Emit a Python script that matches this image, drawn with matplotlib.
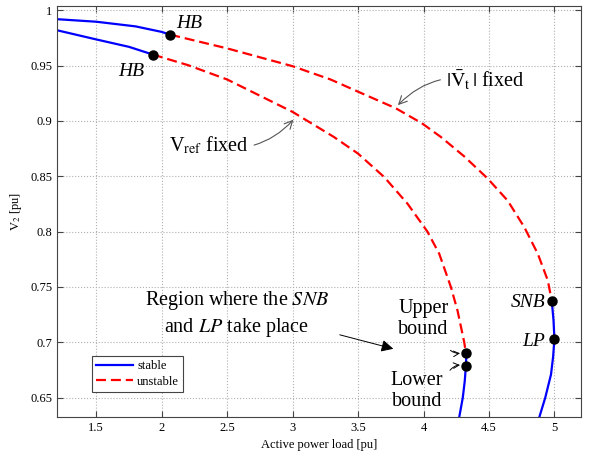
import numpy as np
import matplotlib
matplotlib.use("Agg")
import matplotlib.pyplot as plt
from matplotlib.ticker import FuncFormatter

# --- data (load P [pu], voltage V2 [pu]) ---
# outer curve: |Vt| fixed
vt_stable_top_p = [1.2, 1.5, 1.8, 2.0, 2.065]
vt_stable_top_v = [0.992, 0.9897, 0.9855, 0.9805, 0.978]
vt_unstable_p = [2.065, 2.5, 3.0, 3.29, 3.49, 3.788, 3.987, 4.133, 4.311,
                 4.49, 4.643, 4.77, 4.873, 4.95, 4.98]
vt_unstable_v = [0.978, 0.9656, 0.9495, 0.9375, 0.927, 0.9115, 0.898, 0.8855,
                 0.868, 0.848, 0.828, 0.804, 0.780, 0.7557, 0.737]
vt_stable_bot_p = [4.98, 4.993, 5.0, 4.99, 4.974, 4.93, 4.885]
vt_stable_bot_v = [0.737, 0.72, 0.703, 0.687, 0.671, 0.65, 0.6325]

# inner curve: Vref fixed
vr_stable_top_p = [1.2, 1.5, 1.75, 1.933]
vr_stable_top_v = [0.982, 0.9737, 0.967, 0.96]
vr_unstable_p = [1.933, 2.2, 2.5, 3.0, 3.316, 3.5, 3.70, 3.878, 4.03, 4.12,
                 4.209, 4.26, 4.311, 4.324]
vr_unstable_v = [0.96, 0.9505, 0.9375, 0.9082, 0.8855, 0.8705, 0.8493, 0.8252,
                 0.80, 0.78, 0.75, 0.7285, 0.70, 0.690]
vr_stable_bot_p = [4.324, 4.326, 4.324, 4.315, 4.30, 4.273]
vr_stable_bot_v = [0.690, 0.685, 0.679, 0.665, 0.65, 0.6325]

# special points
hb_p = [2.065, 1.933]
hb_v = [0.978, 0.96]
snb_lp_p = [4.98, 5.0]
snb_lp_v = [0.737, 0.703]
bounds_p = [4.324, 4.324]
bounds_v = [0.690, 0.679]

plt.rcParams['font.family'] = ['Liberation Serif', 'DejaVu Serif']
plt.rcParams['mathtext.fontset'] = 'stix'

fig = plt.figure(figsize=(5.93, 4.54), dpi=100)
ax = fig.add_axes([0.0961, 0.0815, 0.883, 0.9055])

blue = '#0000ff'
red = '#ff0000'
dash = (0, (4.5, 2.2))

ax.plot(vt_stable_top_p, vt_stable_top_v, color=blue, lw=1.6, label='stable')
ax.plot(vt_unstable_p, vt_unstable_v, color=red, lw=1.6, linestyle=dash, label='unstable')
ax.plot(vt_stable_bot_p, vt_stable_bot_v, color=blue, lw=1.6)
ax.plot(vr_stable_top_p, vr_stable_top_v, color=blue, lw=1.6)
ax.plot(vr_unstable_p, vr_unstable_v, color=red, lw=1.6, linestyle=dash)
ax.plot(vr_stable_bot_p, vr_stable_bot_v, color=blue, lw=1.6)

ax.plot(hb_p, hb_v, 'o', color='black', ms=6.5, zorder=5)
ax.plot(snb_lp_p, snb_lp_v, 'o', color='black', ms=6.5, zorder=5)
ax.plot(bounds_p, bounds_v, 'o', color='black', ms=6.5, zorder=5)

ax.set_xlim(1.2, 5.2)
ax.set_ylim(0.6325, 1.004)
ax.set_xticks(np.arange(1.5, 5.01, 0.5))
ax.set_yticks(np.arange(0.65, 1.001, 0.05))
ax.xaxis.set_major_formatter(FuncFormatter(lambda v, p: '%g' % round(v, 2)))
ax.yaxis.set_major_formatter(FuncFormatter(lambda v, p: '%g' % round(v, 2)))
ax.tick_params(direction='in', top=True, right=True, labelsize=9, length=4,
               color='#444444')
for s in ax.spines.values():
    s.set_color('#444444')
ax.grid(True, linestyle=':', color='#b0b0b0', lw=0.8)

ax.set_xlabel('Active power load [pu]', fontsize=9)
ax.set_ylabel('V$_2$ [pu]', fontsize=9)

# labels
ax.text(2.11, 0.988, 'HB', fontsize=14, style='italic', va='center', ha='left')
ax.text(1.77, 0.945, 'HB', fontsize=14, style='italic', va='center', ha='center')
ax.text(4.93, 0.736, 'SNB', fontsize=14, style='italic', va='center', ha='right')
ax.text(4.93, 0.701, 'LP', fontsize=14, style='italic', va='center', ha='right')

grey_arrow = dict(arrowstyle='->', color='#555555', lw=0.8,
                  connectionstyle='arc3,rad=0.3')
ax.annotate(r'V$_{\mathrm{ref}}$ fixed', xy=(3.02, 0.903), xytext=(2.36, 0.878),
            fontsize=14.5, ha='center', va='center', arrowprops=grey_arrow)
ax.annotate(r'$|\bar{\mathrm{V}}_{\mathrm{t}}\,|$ fixed', xy=(3.79, 0.9125),
            xytext=(4.47, 0.936), fontsize=14.5, ha='center', va='center',
            arrowprops=dict(arrowstyle='->', color='#555555', lw=0.8,
                            connectionstyle='arc3,rad=0.3'))

ax.text(2.574, 0.726, 'Region where the $\\it{SNB}$\nand $\\it{LP}$ take place',
        fontsize=14.5, ha='center', va='center', linespacing=1.25)
ax.annotate('', xy=(3.79, 0.6935), xytext=(3.34, 0.7074),
            arrowprops=dict(arrowstyle='-|>', color='black', lw=0.7,
                            mutation_scale=18))

ax.text(3.999, 0.721, 'Upper\nbound', fontsize=14.5, ha='center', va='center',
        linespacing=1.15)
ax.text(3.949, 0.656, 'Lower\nbound', fontsize=14.5, ha='center', va='center',
        linespacing=1.15)
ax.annotate('', xy=(4.30, 0.6905), xytext=(4.19, 0.6945),
            arrowprops=dict(arrowstyle='->', color='black', lw=0.7,
                            connectionstyle='arc3,rad=0.3'))
ax.annotate('', xy=(4.30, 0.6795), xytext=(4.19, 0.6727),
            arrowprops=dict(arrowstyle='->', color='black', lw=0.7,
                            connectionstyle='arc3,rad=-0.3'))

leg = ax.legend(loc='lower left', bbox_to_anchor=(0.067, 0.062), fontsize=9,
                fancybox=False, edgecolor='#444444', framealpha=1,
                handlelength=3.0, handletextpad=0.3, borderpad=0.3,
                labelspacing=0.3, borderaxespad=0)
leg.get_frame().set_linewidth(0.8)

plt.savefig('out.png', dpi=100)
